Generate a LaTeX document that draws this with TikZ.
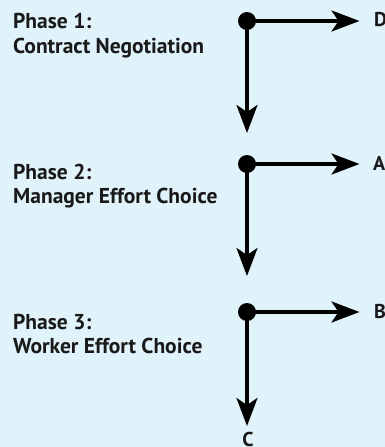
\documentclass[tikz,border=0pt]{standalone}
\usepackage{fontspec}
\setmainfont{PT Sans}
\usetikzlibrary{arrows.meta}
\definecolor{bg}{RGB}{224,242,250}
\begin{document}
\begin{tikzpicture}[x=1pt,y=-1pt,
  lbl/.style={font=\bfseries\fontsize{21.5}{24}\selectfont, anchor=base west, inner sep=0pt, text=black!90},
  endlbl/.style={font=\bfseries\fontsize{20}{24}\selectfont, inner sep=0pt, text=black!90},
  dot/.style={circle, fill=black, minimum size=18pt, inner sep=0pt},
  arr/.style={line width=3.1pt, -{Stealth[length=28pt, width=21pt, inset=7pt]}}]
\fill[bg] (0,0) rectangle (385,447);
\useasboundingbox (0,0) rectangle (385,447);
% phase texts
\node[lbl] (p1a) at (13,28.5) {Phase 1:};
\node[lbl] (p1b) at (13,53) {Contract Negotiation};
\node[lbl] (p2a) at (13,179.3) {Phase 2:};
\node[lbl] (p2b) at (13,203.3) {Manager Effort Choice};
\node[lbl] (p3a) at (13,329) {Phase 3:};
\node[lbl] (p3b) at (13,353) {Worker Effort Choice};
% dots
\node[dot] (d1) at (247,21) {};
\node[dot] (d2) at (247,164) {};
\node[dot] (d3) at (247,312) {};
% end labels
\node[endlbl, anchor=base west] (D) at (374,26.7) {D};
\node[endlbl, anchor=base west] (A) at (373,170) {A};
\node[endlbl, anchor=base west] (B) at (374,318.5) {B};
\node[endlbl, anchor=base] (C) at (248,446) {C};
% arrow ends
\coordinate (h1) at (359.5,21);
\coordinate (h2) at (359.5,164);
\coordinate (h3) at (359.5,312);
\coordinate (v1) at (247,133);
\coordinate (v2) at (247,276);
\coordinate (v3) at (247,426);
\draw[arr] (d1.center) -- (h1);
\draw[arr] (d2.center) -- (h2);
\draw[arr] (d3.center) -- (h3);
\draw[arr] (d1.center) -- (v1);
\draw[arr] (d2.center) -- (v2);
\draw[arr] (d3.center) -- (v3);
\end{tikzpicture}
\end{document}
